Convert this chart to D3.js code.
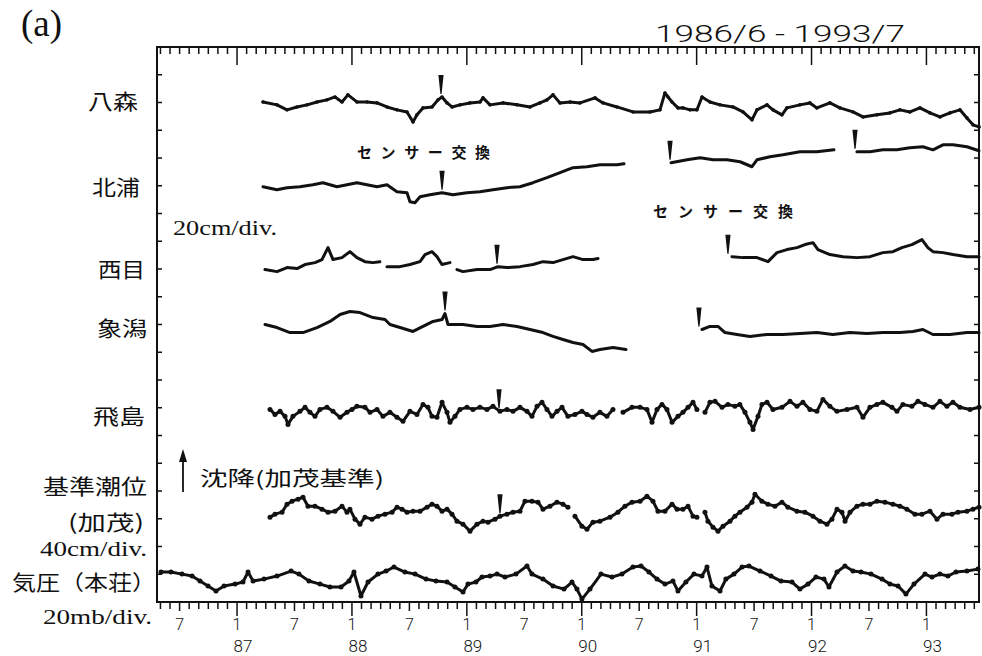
<!DOCTYPE html>
<html>
<head>
<meta charset="utf-8">
<script src="https://cdn.jsdelivr.net/npm/d3@7"></script>
<style>
  body { margin: 0; background: #fff; }
  svg { display: block; }
</style>
</head>
<body>
<svg id="chart" width="982" height="656" xmlns="http://www.w3.org/2000/svg"></svg>
<script>
// ---- time axis: months counted from 1 January 1986 ----
const monthDomain = [3.64, 89.49];
const monthTicks = d3.range(4, 90);
const yearLabels = ["87", "88", "89", "90", "91", "92", "93"];

// ---- tide-gauge records, [month, value]; cm, except pressure in mb ----
const hachimori = [[
  [14.71,0.4],[16.17,-1.7],[17.22,-5.3],[18.26,-3.2],[19.31,-1.7],[20.35,0.4],[21.39,1.9],[22.23,4.0],
  [22.96,0.4],[23.58,5.5],[24.52,0.4],[25.57,0.4],[26.62,-0.3],[27.66,-3.2],[28.70,-5.3],[29.75,-6.8],
  [30.38,-14.0],[30.79,-8.9],[31.42,-3.9],[32.36,-3.2],[32.99,1.9],[33.41,4.0],[33.93,-0.3],[34.45,-3.2],
  [35.29,-1.7],[36.33,-0.3],[37.38,0.4],[37.69,3.3],[38.42,-1.7],[39.78,-0.3],[41.24,-1.7],[42.60,-3.2],
  [43.64,-0.3],[44.37,1.9],[45.00,5.5],[45.73,-0.3],[46.78,0.4],[47.82,-0.3],[49.39,3.3],[50.22,-0.3],
  [51.68,-3.2],[53.35,-6.8],[55.13,-6.8],[56.17,-5.3],[56.69,6.9],[57.01,4.0],[57.43,0.4],[58.05,-3.9],
  [58.57,-3.9],[59.30,-5.3],[60.03,-5.3],[60.56,4.0],[61.39,0.4],[62.44,-1.7],[63.80,-3.2],[64.84,-6.8],
  [65.78,-12.5],[66.30,-5.3],[67.35,-1.7],[67.97,-5.3],[68.91,-8.9],[69.43,-3.9],[70.79,-1.7],[71.83,-0.3],
  [72.56,-3.9],[73.92,-0.3],[74.96,-3.9],[76.33,-6.8],[77.37,-10.4],[78.83,-8.9],[80.19,-7.5],[81.23,-5.3],
  [82.28,-6.8],[83.32,-3.9],[84.37,-7.5],[85.41,-10.4],[86.46,-7.5],[87.50,-5.3],[88.23,-11.1],[88.86,-16.1],
  [89.49,-17.6]
]];

const kitaura = [
  [[14.71,-0.7],[16.17,-2.9],[17.22,-1.4],[18.56,-0.7],[19.93,0.7],[20.97,2.2],[22.44,-0.7],[23.48,0.7],
   [24.52,2.2],[25.57,0.7],[26.62,-0.7],[27.66,0.7],[28.70,-4.3],[29.75,-5.0],[30.06,-11.5],[30.58,-12.2],
   [31.11,-7.9],[32.15,-6.5],[33.41,-5.0],[34.55,-6.5],[36.01,-5.0],[37.37,-4.3],[38.73,-2.9],[40.19,-1.4],
   [41.55,-0.7],[42.91,2.2],[44.37,5.8],[45.73,9.4],[47.09,13.0],[48.55,13.7],[49.91,15.1],[51.68,15.1],
   [52.41,15.8]],
  [[57.33,16.6],[59.00,18.7],[60.36,20.2],[61.72,18.7],[63.17,18.7],[64.53,17.3],[65.78,13.7],[66.30,18.7],
   [67.66,20.9],[69.02,22.3],[70.79,24.5],[72.56,24.5],[74.34,25.9]],
  [[76.74,24.5],[78.10,24.5],[79.45,25.9],[80.92,25.9],[82.28,27.4],[83.63,28.1],[84.68,25.9],[85.73,29.5],
   [86.77,29.5],[88.23,28.1],[89.49,25.2]]
];

const nishime = [
  [[14.92,-0.4],[16.17,-1.9],[17.22,1.0],[18.26,0.3],[19.10,3.2],[20.14,4.6],[20.87,6.8],[21.50,15.4],
   [22.02,6.8],[22.96,8.2],[23.79,12.5],[24.52,8.2],[25.36,5.3],[26.19,4.6],[26.92,5.3]],
  [[27.66,1.7],[29.02,1.7],[30.06,3.2],[31.11,5.3],[31.63,10.4],[32.36,12.5],[32.88,8.9],[33.40,3.2],[34.24,4.6]],
  [[34.97,-0.4],[35.60,-1.9],[37.06,-0.4],[38.42,-0.4],[39.25,1.7],[40.19,1.0],[41.55,1.7],[42.91,3.2],
   [43.95,5.3],[45.00,4.6],[46.04,6.8],[47.09,8.9],[48.13,6.8],[49.17,6.8],[49.70,7.5]],
  [[63.69,8.9],[64.84,8.2],[66.30,8.2],[67.45,5.3],[68.39,11.8],[69.43,14.0],[70.48,15.4],[71.32,17.6],
   [72.15,19.0],[72.67,14.0],[73.92,10.4],[75.28,8.9],[76.74,8.2],[78.10,8.9],[79.45,11.8],[80.50,12.5],
   [81.44,15.4],[82.48,17.6],[83.53,21.2],[84.15,15.4],[84.68,12.5],[85.73,11.8],[86.77,10.4],[88.23,8.9],
   [89.49,8.9]]
];

const kisakata = [
  [[14.92,0],[16.17,-2.2],[17.53,-5.8],[18.89,-5.8],[20.35,-2.2],[21.71,2.2],[22.76,7.2],[23.79,9.4],
   [24.84,8.6],[26.20,5.0],[27.45,3.6],[27.97,0],[29.02,-2.2],[30.38,-5.0],[31.42,-1.4],[32.47,2.2],
   [33.41,3.6],[33.72,7.9],[34.03,0],[35.60,0],[37.06,-1.4],[38.42,-1.4],[39.78,0],[41.24,-1.4],
   [42.60,-3.6],[43.95,-5.8],[45.00,-8.6],[46.04,-10.8],[47.09,-13.0],[48.13,-14.4],[49.07,-19.4],
   [49.91,-18.0],[51.27,-16.6],[52.62,-18.0]],
  [[60.56,-3.6],[61.39,-1.4],[62.23,-1.4],[62.96,-5.8],[64.21,-7.2],[65.57,-8.6],[67.35,-7.2],[69.02,-7.2],
   [70.79,-6.5],[72.56,-5.8],[74.23,-7.2],[76.01,-5.8],[77.79,-6.5],[79.45,-5.8],[81.23,-5.8],[82.59,-5.0],
   [83.63,-3.6],[84.68,-7.2],[86.46,-7.2],[88.23,-5.8],[89.49,-5.8]]
];

const tobishima = [
  [[15.44,-1.2],[15.96,-4.8],[16.49,-2.6],[17.01,-6.2],[17.32,-12.0],[17.84,-6.2],[18.57,-2.6],[19.10,0.3],
   [19.62,-3.3],[20.14,-6.2],[20.66,-1.2],[21.39,0.3],[22.02,-2.6],[22.76,-6.9],[23.48,-3.3],[24.00,-1.2],
   [24.52,1.0],[25.36,0.3],[25.89,-3.3],[26.62,-1.2],[27.24,-6.2],[27.97,-3.3],[28.70,-6.9],[29.33,-9.8],
   [30.06,-2.6],[30.79,-4.8],[31.42,2.4],[31.94,0.3],[32.36,-6.2],[32.88,-6.9],[33.41,3.9],[33.93,-3.3],
   [34.24,-10.5],[34.76,-6.2],[35.28,-1.2],[36.01,0.3],[36.64,-1.2],[37.37,0.3],[38.10,-1.2],[38.73,1.0],
   [39.46,-2.6],[40.19,-1.2],[40.82,-2.6],[41.55,0.3],[42.28,-2.6],[42.80,-6.2],[43.33,1.0],[43.85,3.9],
   [44.37,-1.2],[44.89,-6.2],[45.42,-2.6],[45.94,0.3],[46.56,-6.2],[47.29,-4.8],[48.02,-2.6],[48.55,-4.8],
   [49.17,-6.9],[49.90,-3.3],[50.63,-6.2],[51.26,-1.2]],
  [[52.31,-3.3],[53.25,0.3],[54.09,0.3],[54.81,-1.2],[55.34,-10.5],[55.86,-1.2],[56.38,2.4],[56.90,-1.2],
   [57.43,-10.5],[58.05,-6.2],[58.57,-3.3],[59.10,0.3],[59.62,3.9],[60.03,-1.2]],
  [[60.87,-3.3],[61.39,3.9],[61.92,4.6],[62.65,0.3],[63.27,2.4],[64.00,1.0],[64.51,2.4],[65.05,-3.3],
   [65.57,-10.5],[65.89,-15.6],[66.41,-6.2],[66.82,2.4],[67.35,3.9],[67.97,-1.2],[68.91,0.3],[69.75,4.6],
   [70.48,1.0],[71.10,3.9],[71.83,-1.2],[72.56,-2.6],[73.19,6.0],[73.92,1.0],[74.65,-2.6],[75.70,-1.2],
   [76.74,0.3],[77.37,-6.9],[78.10,0.3],[78.83,2.4],[79.45,3.9],[80.40,0.3],[80.92,-2.6],[81.54,2.4],
   [82.48,1.0],[83.11,4.6],[83.84,2.4],[84.68,0.3],[85.41,4.6],[86.14,1.0],[86.77,3.9],[87.50,0.3],
   [88.55,-1.2],[89.49,0.3]]
];

const kamoTide = [
  [[15.44,-17.7],[15.96,-13.4],[16.70,-10.5],[17.22,1.0],[17.74,5.3],[18.37,8.2],[18.89,11.1],[19.41,-1.9],
   [20.14,-1.9],[20.87,-6.2],[21.50,-10.5],[22.23,-9.1],[22.96,-1.9],[23.48,-10.5],[23.79,-6.2],[24.32,-20.6],
   [24.84,-27.8],[25.36,-17.7],[26.09,-20.6],[26.72,-16.3],[27.45,-13.4],[28.19,-10.5],[28.71,-3.3],
   [29.23,-6.2],[29.75,-10.5],[30.38,-9.1],[31.11,-9.1],[31.84,-3.3],[32.36,1.0],[32.88,-1.9],[33.41,-9.1],
   [33.93,-6.2],[34.45,-13.4],[34.97,-23.5],[35.60,-27.8],[36.33,-37.9],[37.06,-27.8],[37.69,-23.5],
   [38.21,-24.9],[38.94,-20.6],[39.46,-16.3],[40.19,-13.4],[40.82,-10.5],[41.55,-9.1],[42.07,5.3],
   [42.80,5.3],[43.43,3.9],[43.95,-6.2],[44.68,-1.9],[45.41,3.9],[46.04,1.0],[46.56,-3.3]],
  [[47.29,-16.3],[48.02,-30.7],[48.55,-35.0],[49.17,-24.9],[49.90,-23.5],[50.95,-17.7],[51.78,-10.5],
   [52.51,-1.9],[53.25,3.9],[54.09,5.3],[54.81,12.5],[55.44,5.3],[55.96,-9.1],[56.69,-9.1],[57.43,1.0],
   [57.95,-6.2],[58.57,-6.2],[59.10,-1.9],[59.62,-16.3],[60.03,-17.7]],
  [[60.87,-10.5],[61.18,-23.5],[61.71,-32.1],[62.23,-37.9],[62.75,-30.7],[63.48,-23.5],[64.00,-16.3],
   [64.52,-10.5],[65.26,-3.3],[65.78,3.9],[66.09,15.4],[66.82,5.3],[67.45,1.0],[68.18,-1.9],[68.91,3.9],
   [69.53,-3.3],[70.48,-9.1],[71.31,-10.5],[72.15,-16.3],[72.88,-23.5],[73.61,-27.8],[74.13,-20.6],
   [74.66,-6.2],[75.18,-10.5],[75.50,-23.5],[76.02,-10.5],[76.74,-1.9],[77.37,1.0],[78.10,1.0],[78.83,5.3],
   [79.67,3.9],[80.50,1.0],[81.23,-1.9],[81.96,-6.2],[82.80,-13.4],[83.53,-13.4],[84.37,-9.1],[85.10,-20.6],
   [85.73,-13.4],[86.67,-13.4],[87.29,-10.5],[88.23,-9.1],[88.86,-6.2],[89.49,-3.3]]
];

const honjoPressure = [[
  [4.06,1.6],[5.10,1.6],[6.25,0.1],[7.30,-1.3],[8.13,-4.9],[8.97,-8.5],[9.80,-12.1],[10.64,-8.5],
  [11.79,-7.1],[12.62,-5.6],[13.15,1.6],[13.67,-4.9],[14.81,-3.5],[16.17,-1.3],[17.64,2.3],[18.47,0.1],
  [19.51,-4.9],[20.66,-7.1],[21.70,-9.2],[22.86,-9.2],[23.69,-4.9],[24.21,1.6],[24.94,-15.7],[25.68,-5.6],
  [26.72,0.1],[27.56,2.3],[28.39,5.2],[29.54,1.6],[30.59,0.1],[31.74,-3.5],[32.78,-4.9],[33.93,-5.6],
  [34.76,-9.2],[35.60,-12.8],[36.12,-7.1],[36.95,-5.6],[37.58,-2.0],[38.42,-1.3],[39.15,0.1],[39.98,-2.0],
  [41.13,0.1],[42.28,5.9],[42.80,0.1],[43.95,-3.5],[45.00,-8.5],[46.15,-10.7],[46.98,-5.6],[47.50,-10.7],
  [48.02,-17.9],[48.86,-10.7],[50.01,0.1],[51.16,-2.0],[52.20,0.1],[53.35,5.2],[54.19,5.9],[55.02,1.6],
  [55.86,-3.5],[56.69,-7.1],[57.53,-4.9],[58.05,-12.1],[58.88,-5.6],[59.72,0.1],[60.56,-1.3],[61.08,5.2],
  [61.60,-8.5],[62.44,-12.1],[63.06,-3.5],[63.90,0.1],[64.74,5.2],[65.47,5.9],[66.62,2.3],[67.77,-1.3],
  [68.81,-4.9],[69.96,-5.6],[70.79,-10.7],[71.63,-7.1],[72.46,-2.0],[73.30,-3.5],[73.82,-9.2],[74.66,1.6],
  [75.49,5.9],[76.33,2.3],[77.17,1.6],[78.21,0.1],[79.36,-3.5],[80.19,-7.1],[81.03,-8.5],[81.86,-14.3],
  [82.70,-7.1],[83.85,0.1],[84.58,-2.0],[85.41,0.1],[86.24,-1.3],[87.08,1.6],[88.23,2.3],[89.38,3.7]
]];

// month of each gauge event (sensor replacement etc.), drawn as a downward pointer
const eventMonths = {
  hachimori: [33.30],
  kitaura:   [33.41, 57.22, 76.54],
  nishime:   [39.15, 63.27],
  kisakata:  [33.72, 60.24],
  tobishima: [39.36],
  kamoTide:  [39.46]
};

// ---- layout ----
const svg = d3.select("#chart");
const plotLeft = 157, plotRight = 979, plotTop = 47, plotBottom = 602;
const x = d3.scaleLinear().domain(monthDomain).range([plotLeft, plotRight]);
// vertical axis counted in divisions (20 divisions on the frame)
const yDiv = d3.scaleLinear().domain([0, 20]).range([plotBottom, plotTop]);

const series = [
  { key: "hachimori", segs: hachimori,     base: 18,  perDiv: 20, dotR: 1.8 },
  { key: "kitaura",   segs: kitaura,       base: 15,  perDiv: 20, dotR: 0 },
  { key: "nishime",   segs: nishime,       base: 12,  perDiv: 20, dotR: 0 },
  { key: "kisakata",  segs: kisakata,      base: 10,  perDiv: 20, dotR: 0 },
  { key: "tobishima", segs: tobishima,     base: 7,   perDiv: 20, dotR: 2.5 },
  { key: "kamoTide",  segs: kamoTide,      base: 3.5, perDiv: 40, dotR: 2.5 },
  { key: "honjo",     segs: honjoPressure, base: 1,   perDiv: 20, dotR: 2.5 }
];

const ink = "#111111";

// month labels "7" / "1" and year labels under January
const thinSans = "Roboto, 'Open Sans', 'DejaVu Sans', sans-serif";
const labelMonths = monthTicks.filter(m => m % 6 === 0);
svg.append("g").selectAll("text").data(labelMonths).join("text")
  .attr("x", d => x(d)).attr("y", 630)
  .attr("text-anchor", "middle")
  .attr("font-family", thinSans).attr("font-weight", 300).attr("font-size", 16).attr("fill", ink)
  .text(d => d % 12 === 0 ? "1" : "7");
svg.append("g").selectAll("text").data(labelMonths.filter(m => m % 12 === 0)).join("text")
  .attr("x", d => x(d) + 6).attr("y", 652)
  .attr("text-anchor", "middle")
  .attr("font-family", thinSans).attr("font-weight", 300).attr("font-size", 17).attr("fill", ink)
  .text(d => yearLabels[d / 12 - 1]);

// ---- records ----
const yOf = (s, v) => yDiv(s.base + v / s.perDiv);
const plot = svg.append("g");
series.forEach(s => {
  const line = d3.line().x(d => x(d[0])).y(d => yOf(s, d[1]));
  plot.append("g").selectAll("path").data(s.segs).join("path")
    .attr("d", line)
    .attr("fill", "none").attr("stroke", ink)
    .attr("stroke-width", 3)
    .attr("stroke-linejoin", "round").attr("stroke-linecap", "round");
  if (s.dotR > 0) {
    plot.append("g").selectAll("circle").data(s.segs.flat()).join("circle")
      .attr("cx", d => x(d[0])).attr("cy", d => yOf(s, d[1]))
      .attr("r", s.dotR).attr("fill", ink);
  }
});

// event pointers: a narrow downward wedge sitting just above the record
const nearestValue = (segs, m) => d3.least(segs.flat(), d => Math.abs(d[0] - m))[1];
series.forEach(s => {
  (eventMonths[s.key] || []).forEach(m => {
    const px = x(m);
    const tip = yOf(s, nearestValue(s.segs, m)) - 3;
    const head = tip - 19;
    plot.append("path")
      .attr("d", `M${px - 2.6},${head} L${px + 2.6},${head} L${px + 0.6},${tip} L${px - 0.6},${tip} Z`)
      .attr("fill", ink);
  });
});

// ---- text ----
const cjk = "'Noto Sans CJK JP','Noto Sans CJK SC',sans-serif";
const serif = "'Liberation Serif','DejaVu Serif',serif";
function addText(str, xPos, yPos, opt = {}) {
  const t = svg.append("text")
    .attr("x", xPos).attr("y", yPos)
    .attr("font-family", opt.family || cjk)
    .attr("font-size", opt.size || 21)
    .attr("font-weight", opt.weight || 400)
    .attr("text-anchor", opt.anchor || "start")
    .attr("fill", ink)
    .text(str);
  if (opt.len) t.attr("textLength", opt.len).attr("lengthAdjust", opt.adjust || "spacingAndGlyphs");
  return t;
}

addText("(a)", 21, 36, { family: serif, size: 37 });
addText("1986/6 - 1993/7", 655, 42, { family: thinSans, weight: 300, size: 23, len: 250 });

// station names
addText("八森", 138, 109, { anchor: "end", len: 50 });
addText("北浦", 140, 195, { anchor: "end", len: 48 });
addText("西目", 145, 277, { anchor: "end", len: 47 });
addText("象潟", 147, 336, { anchor: "end", len: 50 });
addText("飛島", 145, 424, { anchor: "end", len: 52 });
addText("基準潮位", 147, 494, { anchor: "end", len: 104 });
addText("(加茂)", 144, 530, { anchor: "end", len: 76 });
addText("気圧（本荘）", 156, 590, { anchor: "end", len: 144 });

// scale notes
addText("20cm/div.", 173, 235, { family: serif, size: 20, len: 104 });
addText("40cm/div.", 147, 556, { family: serif, size: 20, anchor: "end", len: 107 });
addText("20mb/div.", 152, 624, { family: serif, size: 20, anchor: "end", len: 109 });

// annotations
addText("センサー交換", 357, 158, { size: 15, weight: 700, len: 133, adjust: "spacing" });
addText("センサー交換", 653, 217, { size: 15, weight: 700, len: 140, adjust: "spacing" });
addText("沈降(加茂基準)", 200, 486, { size: 20, len: 184 });

// upward arrow for the sign convention
svg.append("line")
  .attr("x1", 183).attr("x2", 183).attr("y1", 492).attr("y2", 458)
  .attr("stroke", ink).attr("stroke-width", 1.8);
svg.append("path")
  .attr("d", "M183,449 L187,462 L179,462 Z")
  .attr("fill", ink);

// ---- frame and tick marks ----
svg.append("rect")
  .attr("x", plotLeft).attr("y", plotTop)
  .attr("width", plotRight - plotLeft).attr("height", plotBottom - plotTop)
  .attr("fill", "none").attr("stroke", ink).attr("stroke-width", 2);

const tickLen = m => m % 12 === 0 ? 14 : (m % 12 === 6 ? 9 : 7);
const topLen = m => m % 12 === 0 ? 18 : 7;
const tickSegs = [];
monthTicks.forEach(m => {
  tickSegs.push([x(m), plotBottom, x(m), plotBottom + tickLen(m)]);
  tickSegs.push([x(m), plotTop, x(m), plotTop + topLen(m)]);
});
d3.range(1, 20).forEach(d => {
  tickSegs.push([plotLeft, yDiv(d), plotLeft + 5, yDiv(d)]);
  tickSegs.push([plotRight, yDiv(d), plotRight - 5, yDiv(d)]);
});
svg.append("g").selectAll("line").data(tickSegs).join("line")
  .attr("x1", d => d[0]).attr("y1", d => d[1]).attr("x2", d => d[2]).attr("y2", d => d[3])
  .attr("stroke", ink).attr("stroke-width", 1.5);
</script>
</body>
</html>
